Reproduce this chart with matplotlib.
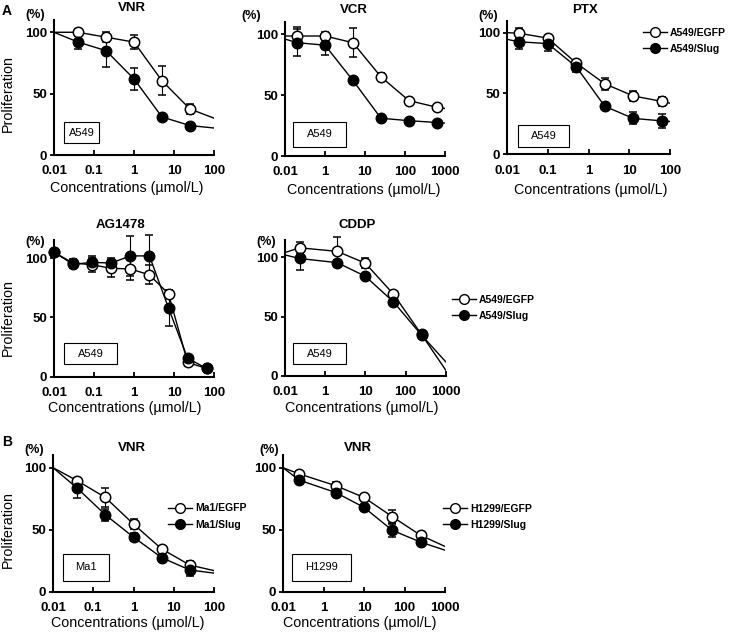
import matplotlib
matplotlib.use("Agg")
import matplotlib.pyplot as plt
from matplotlib.lines import Line2D
from matplotlib.patches import Rectangle

plt.rcParams['font.family'] = ['Liberation Sans', 'DejaVu Sans']

W, H = 735, 635

# ---- values (% proliferation, mean +/- SD) ----
# A: VNR, A549
vnr_conc = [0.04, 0.2, 1, 5, 25]
vnr_egfp = [100, 96, 92, 60.5, 37.5]
vnr_egfp_err = [3, 4, 6, 12, 4]
vnr_slug = [92, 85, 62, 31, 24]
vnr_slug_err = [6, 13, 9, 2, 2]
vnr_ends = [(100, 30), (100, 22)]      # fitted curve at left/right edge: egfp, slug

# A: VCR, A549 (broken axis: left edge labelled 0.01 sits at 0.1)
vcr_conc = [0.2, 1, 5, 25, 125, 625]
vcr_egfp = [98.5, 98.5, 93, 65, 45.5, 40]
vcr_egfp_err = [7, 3, 12, 3, 2, 2]
vcr_slug = [93, 91, 62, 31, 29, 27.5]
vcr_slug_err = [11, 8, 1, 1, 1, 1]
vcr_ends = [(98.5, 39), (96, 27)]

# A: PTX, A549
ptx_conc = [0.02, 0.1, 0.5, 2.5, 12.5, 62.5]
ptx_egfp = [99.5, 95.5, 75, 58, 48, 43.5]
ptx_egfp_err = [4, 2, 2, 5, 4, 4]
ptx_slug = [92.5, 91, 72, 39.5, 29.5, 27.5]
ptx_slug_err = [6, 6, 4, 2, 5, 6]
ptx_ends = [(100, 42), (94.5, 27)]

# A: AG1478, A549
ag_conc = [0.01, 0.03, 0.09, 0.27, 0.81, 2.43, 7.29, 21.9, 65.6]
ag_egfp = [105, 96, 94.5, 91.5, 91, 86, 70, 12, 7]
ag_egfp_err = [1, 3, 6, 7, 9, 8, 3, 3, 2]
ag_slug = [105, 95, 96.5, 96, 102, 102, 58, 15.5, 7]
ag_slug_err = [1, 3, 5, 4, 17, 18, 15, 3, 2]

# A: CDDP, A549 (broken axis)
cddp_conc = [0.23, 2, 10, 50, 250]
cddp_egfp = [108, 105, 95, 69, 35]
cddp_egfp_err = [5, 12, 4, 2, 2]
cddp_slug = [99, 95.5, 84, 62.5, 34.5]
cddp_slug_err = [10, 2, 2, 2, 2]
cddp_ends = [(104, 5), (102, 12)]

# B: VNR, Ma1
ma1_conc = [0.04, 0.2, 1, 5, 25]
ma1_egfp = [89.5, 76, 54.5, 34.5, 21.5]
ma1_egfp_err = [2, 8, 4, 2, 3]
ma1_slug = [83.5, 62, 44, 27.5, 17.5]
ma1_slug_err = [8, 5, 3, 2, 5]
ma1_ends = [(100, 17), (100, 15)]

# B: VNR, H1299 (broken axis)
h1299_conc = [0.25, 2, 10, 50, 250]
h1299_egfp = [95, 85.5, 76, 60.5, 45.5]
h1299_egfp_err = [2, 3, 2, 5, 2]
h1299_slug = [90, 80, 68, 49.5, 40]
h1299_slug_err = [2, 2, 2, 5, 2]
h1299_ends = [(100, 36.5), (100, 33.5)]

ticks_a = [0.01, 0.1, 1, 10, 100]
labels_a = ['0.01', '0.1', '1', '10', '100']
ticks_b = [0.1, 1, 10, 100, 1000]
labels_b = ['0.01', '1', '10', '100', '1000']

fig = plt.figure(figsize=(W / 100, H / 100), dpi=100)


def ftext(x, y, s, **kw):
    fig.text(x / W, 1 - y / H, s, **kw)


def panel(rect, ytop, ticks, labels, conc, eg, eg_err, sl, sl_err, ends,
          title, title_xy, pct_xy, box, xlab_xy, ylab_y=None, legend=None):
    l, t, r, b = rect
    ax = fig.add_axes([l / W, 1 - b / H, (r - l) / W, (b - t) / H])
    x0, x1 = ticks[0], ticks[-1]
    for vals, err, face, end in [(eg, eg_err, 'white', ends[0] if ends else None),
                                 (sl, sl_err, 'black', ends[1] if ends else None)]:
        if end:
            ax.plot([x0] + conc + [x1], [end[0]] + vals + [end[1]], color='k', lw=1, zorder=1)
        else:
            ax.plot(conc, vals, color='k', lw=1, zorder=1)
        ax.errorbar(conc, vals, yerr=err, fmt='o', ms=7.5, mfc=face, mec='k', mew=1.1,
                    ecolor='k', elinewidth=0.8, capsize=3, capthick=0.8,
                    clip_on=False, zorder=3)
    ax.set_xscale('log')
    ax.set_xlim(x0, x1)
    ax.set_ylim(0, ytop)
    ax.set_xticks(ticks)
    ax.set_xticklabels(labels)
    ax.minorticks_off()
    ax.set_yticks([0, 50, 100])
    for s in ['top', 'right']:
        ax.spines[s].set_visible(False)
    for s in ['left', 'bottom']:
        ax.spines[s].set_linewidth(1.5)
    ax.tick_params(axis='x', direction='in', length=3.5, width=1.3, pad=7.5,
                   labelsize=9.5)
    ax.tick_params(axis='y', direction='out', length=3, width=1.3, pad=2,
                   labelsize=9.5)
    for lab in ax.get_xticklabels() + ax.get_yticklabels():
        lab.set_fontweight('bold')

    ftext(title_xy[0], title_xy[1], title, ha='center', va='center',
          fontsize=9.5, fontweight='bold')
    ftext(pct_xy[0], pct_xy[1], '(%)', ha='center', va='center',
          fontsize=9, fontweight='bold')
    ftext(xlab_xy[0], xlab_xy[1], 'Concentrations (\u00b5mol/L)', ha='center',
          va='center', fontsize=10.3)
    if ylab_y is not None:
        ftext(8, ylab_y, 'Proliferation', ha='center', va='center',
              rotation=90, fontsize=10.3)

    bl, bt, br, bb, name = box
    fig.patches.append(Rectangle((bl / W, 1 - bb / H), (br - bl) / W, (bb - bt) / H,
                                 transform=fig.transFigure, fill=False,
                                 ec='k', lw=0.8))
    ftext((bl + br) / 2, (bt + bb) / 2, name, ha='center', va='center',
          fontsize=8)

    if legend:
        lx, ly, names = legend
        handles = [Line2D([], [], color='k', lw=1, marker='o', ms=7, mfc='white', mec='k'),
                   Line2D([], [], color='k', lw=1, marker='o', ms=7, mfc='black', mec='k')]
        ax.legend(handles, names, loc='center left',
                  bbox_to_anchor=(lx / W, 1 - ly / H), bbox_transform=fig.transFigure,
                  frameon=False, handlelength=2.3, handletextpad=0.3,
                  borderpad=0, borderaxespad=0, labelspacing=0.6,
                  prop={'size': 7.5, 'weight': 'bold'})
    return ax


panel((54, 20, 214, 155), 110, ticks_a, labels_a, vnr_conc, vnr_egfp, vnr_egfp_err,
      vnr_slug, vnr_slug_err, vnr_ends, 'VNR', (132, 8), (35, 15),
      (64, 122, 99, 143, 'A549'), (127, 188), ylab_y=94)
panel((285, 22, 445, 156), 110, ticks_b, labels_b, vcr_conc, vcr_egfp, vcr_egfp_err,
      vcr_slug, vcr_slug_err, vcr_ends, 'VCR', (354, 10), (251, 16),
      (293, 122, 346, 147, 'A549'), (364, 190))
panel((507, 20.5, 670, 154.3), 110, ticks_a, labels_a, ptx_conc, ptx_egfp, ptx_egfp_err,
      ptx_slug, ptx_slug_err, ptx_ends, 'PTX', (585, 10), (488, 16),
      (518, 125, 569, 147, 'A549'), (591, 190),
      legend=(643, 41, ['A549/EGFP', 'A549/Slug']))
panel((54, 240.5, 214, 376.7), 115, ticks_a, labels_a, ag_conc, ag_egfp, ag_egfp_err,
      ag_slug, ag_slug_err, None, 'AG1478', (120, 225), (35, 242),
      (64, 343, 117, 364, 'A549'), (125, 408), ylab_y=317.5)
panel((285, 239.5, 445.7, 376), 115, ticks_b, labels_b, cddp_conc, cddp_egfp, cddp_egfp_err,
      cddp_slug, cddp_slug_err, cddp_ends, 'CDDP', (357, 225), (266, 242),
      (293, 343, 346, 364, 'A549'), (362, 408),
      legend=(452, 308, ['A549/EGFP', 'A549/Slug']))
panel((53, 455.3, 214, 591.7), 110, ticks_a, labels_a, ma1_conc, ma1_egfp, ma1_egfp_err,
      ma1_slug, ma1_slug_err, ma1_ends, 'VNR', (132, 448), (34, 450),
      (63, 554, 109, 581, 'Ma1'), (128, 623), ylab_y=529.7,
      legend=(168, 516.5, ['Ma1/EGFP', 'Ma1/Slug']))
panel((283, 455.3, 445, 591.7), 110, ticks_b, labels_b, h1299_conc, h1299_egfp, h1299_egfp_err,
      h1299_slug, h1299_slug_err, h1299_ends, 'VNR', (358, 448), (269, 450),
      (292, 554, 351, 581, 'H1299'), (360, 623),
      legend=(443, 517, ['H1299/EGFP', 'H1299/Slug']))

ftext(7, 11, 'A', ha='center', va='center', fontsize=10, fontweight='bold')
ftext(7, 442, 'B', ha='center', va='center', fontsize=10, fontweight='bold')

fig.savefig('out.png', dpi=100)
